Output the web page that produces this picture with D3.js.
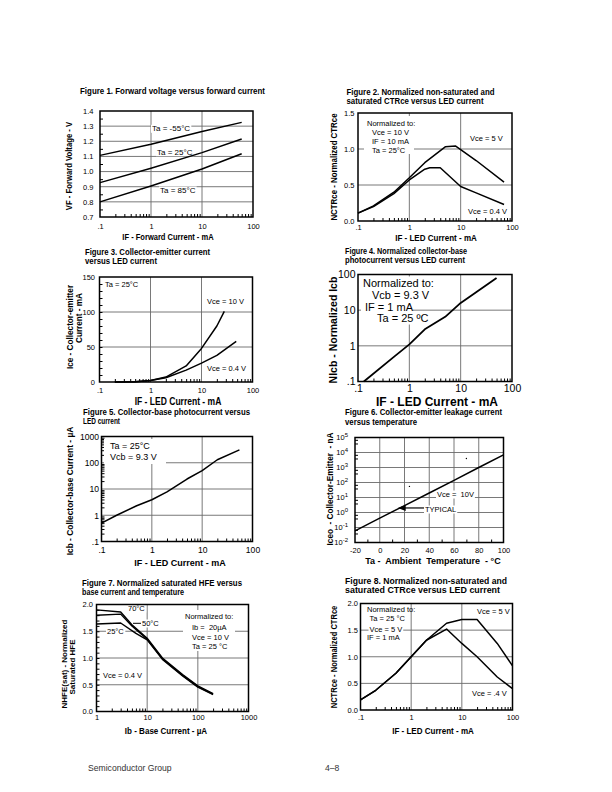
<!DOCTYPE html>
<html><head><meta charset="utf-8">
<script src="https://cdn.jsdelivr.net/npm/d3@7"></script>
<style>body{margin:0;background:#fff}svg{display:block}text{white-space:pre}</style>
</head><body><svg id="c" width="612" height="792"></svg>
<script>
// ---------- DATA ----------
const LOGX_TICKS = [0.1, 1, 10, 100];
const LOGX_LABELS = [".1", "1", "10", "100"];

// Fig 1
const FIG1_IF = [0.1, 1, 10, 60];
const FIG1_VF_M55 = [1.107, 1.18, 1.265, 1.325];
const FIG1_VF_25 = [0.927, 1.022, 1.125, 1.215];
const FIG1_VF_85 = [0.80, 0.905, 1.017, 1.118];
const FIG1_Y_TICKS = [0.7, 0.8, 0.9, 1.0, 1.1, 1.2, 1.3, 1.4];

// Fig 2
const FIG2_IF_5V = [0.1, 0.2, 0.5, 1, 2, 5, 8, 10, 20, 70];
const FIG2_CTR_5V = [0.11, 0.21, 0.40, 0.60, 0.81, 1.03, 1.04, 0.99, 0.84, 0.54];
const FIG2_IF_04V = [0.1, 0.2, 0.5, 1, 2, 2.5, 4, 10, 20, 70];
const FIG2_CTR_04V = [0.11, 0.20, 0.38, 0.57, 0.72, 0.74, 0.74, 0.48, 0.39, 0.23];
const FIG2_Y_TICKS = [0, 0.5, 1.0, 1.5];

// Fig 3
const FIG3_IF_10V = [0.2, 0.5, 1, 2, 5, 10, 20, 28];
const FIG3_ICE_10V = [0, 0.5, 2, 7, 23, 48, 80, 101];
const FIG3_IF_04V = [0.2, 0.5, 1, 2, 5, 10, 20, 48];
const FIG3_ICE_04V = [0, 0.5, 2, 6, 17, 27, 38, 58];
const FIG3_Y_TICKS = [0, 50, 100, 150];

// Fig 4
const FIG4_IF = [0.13, 0.5, 1, 2, 5, 10, 20, 50];
const FIG4_NICB = [0.1, 0.49, 1.1, 2.9, 6.5, 16, 32, 80];
const FIG4_Y_TICKS = [0.1, 1, 10, 100];
const FIG4_Y_LABELS = [".1", "1", "10", "100"];

// Fig 5
const FIG5_IF = [0.1, 0.2, 0.5, 1, 2, 5, 10, 20, 55];
const FIG5_ICB = [0.5, 1.0, 2.3, 3.9, 7.8, 24, 50, 130, 310];
const FIG5_Y_TICKS = [0.1, 1, 10, 100, 1000];
const FIG5_Y_LABELS = [".1", "1", "10", "100", "1000"];

// Fig 6
const FIG6_TA = [-20, 0, 20, 40, 60, 80, 100];
const FIG6_ICEO = [0.06, 0.42, 2.9, 20, 140, 1000, 7000];
const FIG6_DOTS_TA = [24, 70];
const FIG6_DOTS_I = [55, 4000];
const FIG6_X_TICKS = [-20, 0, 20, 40, 60, 80, 100];
const FIG6_Y_EXP = [-2, -1, 0, 1, 2, 3, 4, 5];

// Fig 7
const FIG7_IB_70 = [1, 3, 5, 10, 20, 50, 100, 200];
const FIG7_H_70 = [1.90, 1.86, 1.62, 1.37, 1.00, 0.69, 0.48, 0.335];
const FIG7_IB_50 = [1, 3, 5, 10, 20, 50, 100, 200];
const FIG7_H_50 = [1.80, 1.82, 1.60, 1.35, 0.985, 0.675, 0.465, 0.325];
const FIG7_IB_25 = [1, 3, 6, 10, 20, 50, 100, 200];
const FIG7_H_25 = [1.635, 1.655, 1.46, 1.34, 0.975, 0.665, 0.455, 0.315];
const FIG7_X_TICKS = [1, 10, 100, 1000];
const FIG7_X_LABELS = ["1", "10", "100", "1000"];
const FIG7_Y_TICKS = [0, 0.5, 1.0, 1.5, 2.0];

// Fig 8
const FIG8_IF = [0.1, 0.2, 0.5, 1, 2, 5, 10, 20, 50, 100];
const FIG8_CTR_5V = [0.19, 0.37, 0.69, 1.0, 1.31, 1.63, 1.70, 1.70, 1.25, 0.83];
const FIG8_CTR_04V = [0.19, 0.37, 0.69, 1.0, 1.31, 1.52, 1.25, 1.0, 0.62, 0.40];
const FIG8_Y_TICKS = [0, 0.5, 1.0, 1.5, 2.0];

// ---------- DRAWING ----------
const SANS = "'Liberation Sans', Arial, Helvetica, sans-serif";
const NW = 0.82; // condensed (Helvetica Narrow) width factor
const svg = d3.select('#c');
const zip = (a, b) => a.map((v, i) => [v, b[i]]);
const logMinor = (lo, hi) => { const r = []; for (let d = lo; d < hi; d *= 10) for (let k = 2; k <= 9; k++) r.push(d * k); return r; };

function addText(parent, x, y, str, o = {}) {
  const t = parent.append('text').attr('x', x).attr('y', y)
    .attr('font-family', SANS).attr('font-size', o.size || 7.5)
    .attr('font-weight', o.weight || 'normal').attr('text-anchor', o.anchor || 'start')
    .attr('fill', o.fill || '#000');
  if (o.rotate) t.attr('transform', `rotate(-90,${x},${y})`);
  t.text(str);
  if (o.width || o.narrow) {
    const L = o.width || t.node().getComputedTextLength() * o.narrow;
    t.attr('textLength', L).attr('lengthAdjust', 'spacingAndGlyphs');
  }
  if (o.bg) {
    const b = t.node().getBBox();
    parent.insert('rect', () => t.node()).attr('x', b.x - 1).attr('y', b.y + 0.5)
      .attr('width', b.width + 2).attr('height', b.height - 1).attr('fill', '#fff');
  }
  return t;
}

function panel(c) {
  const g = svg.append('g');
  const x = (c.xlog ? d3.scaleLog() : d3.scaleLinear()).domain(c.xdom).range([c.x0, c.x1]);
  const y = (c.ylog ? d3.scaleLog() : d3.scaleLinear()).domain(c.ydom).range([c.y1, c.y0]);
  const grid = g.append('g').attr('stroke', '#6a6a6a').attr('stroke-width', 0.9);
  c.xgrid.forEach(v => grid.append('line').attr('x1', x(v)).attr('x2', x(v)).attr('y1', c.y0).attr('y2', c.y1));
  c.ygrid.forEach(v => grid.append('line').attr('y1', y(v)).attr('y2', y(v)).attr('x1', c.x0).attr('x2', c.x1));
  if (c.xminor) {
    const ax = g.append('g').attr('transform', `translate(0,${c.y1})`)
      .call(d3.axisBottom(x).tickValues(c.xminor).tickSize(-3).tickFormat(''));
    ax.select('.domain').remove();
    ax.selectAll('line').attr('stroke', '#000').attr('stroke-width', 1);
  }
  if (c.yminor) {
    const ay = g.append('g').attr('transform', `translate(${c.x0},0)`)
      .call(d3.axisLeft(y).tickValues(c.yminor).tickSize(-3).tickFormat(''));
    ay.select('.domain').remove();
    ay.selectAll('line').attr('stroke', '#000').attr('stroke-width', 1);
  }
  const ax = g.append('g').attr('transform', `translate(0,${c.y1})`)
    .call(d3.axisBottom(x).tickValues(c.xticks).tickSize(0).tickPadding(c.xpad)
      .tickFormat((d, i) => c.xlabels ? c.xlabels[i] : d));
  ax.select('.domain').remove();
  ax.selectAll('text').attr('font-family', SANS).attr('font-size', c.tsize).attr('fill', '#000');
  const ay = g.append('g').attr('transform', `translate(${c.x0},0)`)
    .call(d3.axisLeft(y).tickValues(c.yticks).tickSize(0).tickPadding(c.ypad)
      .tickFormat((d, i) => c.ylabels ? c.ylabels[i] : d));
  ay.select('.domain').remove();
  ay.selectAll('text').attr('font-family', SANS).attr('font-size', c.tsize).attr('fill', '#000');
  return { g, x, y, c, ay };
}

function curves(p, series, w) {
  const line = d3.line().x(d => p.x(d[0])).y(d => p.y(d[1]));
  series.forEach(s => p.g.append('path').attr('d', line(s)).attr('fill', 'none')
    .attr('stroke', '#000').attr('stroke-width', w || 1.5).attr('stroke-linejoin', 'round'));
}
function box(p) {
  const c = p.c;
  p.g.append('rect').attr('x', c.x0).attr('y', c.y0).attr('width', c.x1 - c.x0).attr('height', c.y1 - c.y0)
    .attr('fill', 'none').attr('stroke', '#000').attr('stroke-width', 1.5);
}
function titles(lines, widths, x, y) {
  lines.forEach((s, i) => addText(svg, x, y + i * 9.2, s, { weight: 'bold', size: 8.2, width: widths[i] }));
}
function whiteRect(g, x, y, w, h) { g.append('rect').attr('x', x).attr('y', y).attr('width', w).attr('height', h).attr('fill', '#fff'); }

const fmt1 = d3.format('.1f');

// ---- Figure 1 ----
titles(["Figure 1. Forward voltage versus forward current"], [185], 80, 94);
{
  const p = panel({ x0: 100, x1: 253, y0: 111, y1: 217, xlog: true, xdom: [0.1, 100], ydom: [0.7, 1.4],
    xgrid: [1, 10], ygrid: [0.8, 0.9, 1.0, 1.1, 1.2, 1.3], xminor: logMinor(0.1, 100), yminor: [0.75, 0.85, 0.95, 1.05, 1.15, 1.25, 1.35],
    xticks: LOGX_TICKS, xlabels: LOGX_LABELS, yticks: FIG1_Y_TICKS, ylabels: FIG1_Y_TICKS.map(fmt1), xpad: 7, ypad: 6.5, tsize: 7.5 });
  addText(p.g, 152, 131.3, "Ta = -55°C", { size: 8, bg: true });
  addText(p.g, 157, 154.7, "Ta = 25°C", { size: 8, bg: true });
  addText(p.g, 160, 193, "Ta = 85°C", { size: 8, bg: true });
  curves(p, [zip(FIG1_IF, FIG1_VF_M55), zip(FIG1_IF, FIG1_VF_25), zip(FIG1_IF, FIG1_VF_85)]);
  box(p);
  addText(svg, 168, 239.5, "IF - Forward Current - mA", { weight: 'bold', size: 9.2, anchor: 'middle', narrow: NW });
  addText(svg, 72, 166, "VF - Forward Voltage - V", { weight: 'bold', size: 9.4, anchor: 'middle', rotate: true, narrow: NW });
}

// ---- Figure 2 ----
titles(["Figure 2. Normalized non-saturated and", "saturated CTRce versus LED current"], [148, 137], 346.5, 95);
{
  const p = panel({ x0: 358, x1: 512, y0: 113, y1: 221, xlog: true, xdom: [0.1, 100], ydom: [0, 1.5],
    xgrid: [1, 10], ygrid: [0.5, 1.0], xminor: logMinor(0.1, 100),
    xticks: LOGX_TICKS, xlabels: LOGX_LABELS, yticks: FIG2_Y_TICKS, ylabels: FIG2_Y_TICKS.map(fmt1), xpad: 3.5, ypad: 3.5, tsize: 7.5 });
  whiteRect(p.g, 364, 116, 50, 38);
  addText(p.g, 367, 125.5, "Normalized to:", { size: 7.5 });
  addText(p.g, 372, 134.5, "Vce = 10 V", { size: 7.5 });
  addText(p.g, 372, 143.8, "IF = 10 mA", { size: 7.5 });
  addText(p.g, 372, 152.8, "Ta = 25°C", { size: 7.5, bg: true });
  addText(p.g, 470, 141, "Vce = 5 V", { size: 7.5, bg: true });
  addText(p.g, 468, 213.8, "Vce = 0.4 V", { size: 7.5, bg: true });
  curves(p, [zip(FIG2_IF_5V, FIG2_CTR_5V), zip(FIG2_IF_04V, FIG2_CTR_04V)]);
  box(p);
  addText(svg, 436, 240.5, "IF - LED Current - mA", { weight: 'bold', size: 9.8, anchor: 'middle', narrow: NW });
  addText(svg, 336.5, 167, "NCTRce - Normalized CTRce", { weight: 'bold', size: 9.6, anchor: 'middle', rotate: true, narrow: NW });
}

// ---- Figure 3 ----
titles(["Figure 3. Collector-emitter current", "versus LED current"], [125, 72], 85, 254.7);
{
  const p = panel({ x0: 99.5, x1: 252.5, y0: 277, y1: 382, xlog: true, xdom: [0.1, 100], ydom: [0, 150],
    xgrid: [1, 10], ygrid: [50, 100], xminor: logMinor(0.1, 100), yminor: d3.range(10, 150, 10),
    xticks: LOGX_TICKS, xlabels: LOGX_LABELS, yticks: FIG3_Y_TICKS, xpad: 6, ypad: 4.5, tsize: 7.5 });
  addText(p.g, 105, 286.8, "Ta = 25°C", { size: 7.5 });
  addText(p.g, 207, 303.8, "Vce = 10 V", { size: 7.5, bg: true });
  addText(p.g, 207, 371, "Vce = 0.4 V", { size: 7.5, bg: true });
  curves(p, [zip(FIG3_IF_10V, FIG3_ICE_10V), zip(FIG3_IF_04V, FIG3_ICE_04V)]);
  box(p);
  addText(svg, 178, 404.5, "IF - LED Current - mA", { weight: 'bold', size: 10.4, anchor: 'middle', narrow: NW });
  addText(svg, 73, 327, "Ice - Collector-emitter", { weight: 'bold', size: 8.2, anchor: 'middle', rotate: true });
  addText(svg, 81.5, 318, "Current - mA", { weight: 'bold', size: 8.2, anchor: 'middle', rotate: true });
}

// ---- Figure 4 ----
titles(["Figure 4. Normalized collector-base", "photocurrent versus LED current"], [122, 120], 345, 254);
{
  const p = panel({ x0: 358, x1: 512, y0: 274.5, y1: 381.5, xlog: true, ylog: true, xdom: [0.1, 100], ydom: [0.1, 100],
    xgrid: [1, 10], ygrid: [1, 10], xminor: logMinor(0.1, 100),
    xticks: LOGX_TICKS, xlabels: LOGX_LABELS, yticks: FIG4_Y_TICKS, ylabels: FIG4_Y_LABELS, xpad: 3.5, ypad: 2.5, tsize: 10.5 });
  whiteRect(p.g, 361, 276.5, 52, 48);
  addText(p.g, 363, 286.5, "Normalized to:", { size: 11 });
  addText(p.g, 372, 298.5, "Vcb = 9.3 V", { size: 11 });
  addText(p.g, 365, 310.5, "IF = 1 mA", { size: 11 });
  addText(p.g, 377, 321.5, "Ta = 25 ºC", { size: 11 });
  curves(p, [zip(FIG4_IF, FIG4_NICB)], 1.8);
  box(p);
  addText(svg, 437, 405.5, "IF - LED Current - mA", { weight: 'bold', size: 12, anchor: 'middle' });
  addText(svg, 337, 330, "NIcb - Normalized Icb", { weight: 'bold', size: 10.5, anchor: 'middle', rotate: true });
}

// ---- Figure 5 ----
titles(["Figure 5. Collector-base photocurrent versus", "LED current"], [167, 37], 83, 414.7);
{
  const p = panel({ x0: 101.5, x1: 252.5, y0: 436.5, y1: 541.5, xlog: true, ylog: true, xdom: [0.1, 100], ydom: [0.1, 1000],
    xgrid: [1, 10], ygrid: [1, 10, 100], xminor: logMinor(0.1, 100), yminor: logMinor(0.1, 1000),
    xticks: LOGX_TICKS, xlabels: LOGX_LABELS, yticks: FIG5_Y_TICKS, ylabels: FIG5_Y_LABELS, xpad: 5.5, ypad: 2.5, tsize: 8.6 });
  whiteRect(p.g, 104, 439, 62, 25);
  addText(p.g, 110, 448.5, "Ta = 25°C", { size: 9 });
  addText(p.g, 110, 460, "Vcb = 9.3 V", { size: 9 });
  curves(p, [zip(FIG5_IF, FIG5_ICB)]);
  box(p);
  addText(svg, 180, 565.5, "IF - LED Current - mA", { weight: 'bold', size: 9, anchor: 'middle' });
  addText(svg, 73, 491, "Icb - Collector-base Current - µA", { weight: 'bold', size: 8.4, anchor: 'middle', rotate: true });
}

// ---- Figure 6 ----
titles(["Figure 6. Collector-emitter leakage current", "versus temperature"], [157, 72], 345, 415.3);
{
  const p = panel({ x0: 355, x1: 503.5, y0: 437.5, y1: 542.5, xlog: false, ylog: true, xdom: [-20, 100], ydom: [1e-2, 1e5],
    xgrid: [0, 20, 40, 60, 80], ygrid: [1e-1, 1, 1e1, 1e2, 1e3, 1e4], xminor: [-10, 10, 30, 50, 70, 90],
    yminor: logMinor(0.01, 1e5).filter((d, i) => i % 8 === 2 || i % 8 === 5),
    xticks: FIG6_X_TICKS, yticks: FIG6_Y_EXP.map(e => Math.pow(10, e)), ylabels: FIG6_Y_EXP.map(() => ''), xpad: 4.8, ypad: 7, tsize: 7.5 });
  p.ay.selectAll('.tick text').each(function (d, i) {
    const t = d3.select(this);
    t.text('10');
    t.append('tspan').attr('dy', -3.2).attr('font-size', 6).text(String(FIG6_Y_EXP[i]));
  });
  addText(p.g, 437, 497, "Vce =  10V", { size: 7.5, bg: true });
  addText(p.g, 425, 512, "TYPICAL", { size: 7.5, bg: true });
  const ay0 = p.y(2.2) + 0.6, ax0 = p.x(14.5);
  p.g.append('line').attr('x1', 424).attr('x2', ax0 + 5).attr('y1', ay0).attr('y2', ay0)
    .attr('stroke', '#000').attr('stroke-width', 1.2);
  p.g.append('path').attr('d', `M${ax0},${ay0} l8,-3 l0,6 z`).attr('fill', '#000');
  p.g.selectAll('.dot').data(zip(FIG6_DOTS_TA, FIG6_DOTS_I)).join('circle').attr('class', 'dot')
    .attr('cx', d => p.x(d[0])).attr('cy', d => p.y(d[1])).attr('r', 0.7).attr('fill', '#000');
  curves(p, [zip(FIG6_TA, FIG6_ICEO)]);
  box(p);
  addText(svg, 433, 563.5, "Ta -  Ambient  Temperature  - °C", { weight: 'bold', size: 9, anchor: 'middle' });
  addText(svg, 333, 489, "Iceo  - Collector-Emitter  - nA", { weight: 'bold', size: 8.2, anchor: 'middle', rotate: true });
}

// ---- Figure 7 ----
titles(["Figure 7. Normalized saturated HFE versus", "base current and temperature"], [160, 102], 82, 586);
{
  const p = panel({ x0: 96.5, x1: 248.5, y0: 604.5, y1: 711.5, xlog: true, xdom: [1, 1000], ydom: [0, 2],
    xgrid: [10, 100], ygrid: [0.5, 1.0, 1.5], xminor: logMinor(1, 1000), yminor: d3.range(0.1, 2, 0.1),
    xticks: FIG7_X_TICKS, xlabels: FIG7_X_LABELS, yticks: FIG7_Y_TICKS, ylabels: FIG7_Y_TICKS.map(fmt1), xpad: 3.6, ypad: 3.5, tsize: 7.5 });
  addText(p.g, 128, 611, "70°C", { size: 7.5, bg: true });
  p.g.append('line').attr('x1', 133).attr('x2', 141).attr('y1', 623.3).attr('y2', 623.3).attr('stroke', '#000').attr('stroke-width', 1);
  addText(p.g, 142, 626, "50°C", { size: 7.5, bg: true });
  addText(p.g, 107, 634.4, "25°C", { size: 7.5, bg: true });
  whiteRect(p.g, 183, 610, 52, 41);
  addText(p.g, 185, 618.5, "Normalized to:", { size: 7.5 });
  addText(p.g, 192, 629.5, "Ib =  20µA", { size: 7.5 });
  addText(p.g, 192, 640, "Vce = 10 V", { size: 7.5 });
  addText(p.g, 192, 648.5, "Ta = 25 °C", { size: 7.5 });
  addText(p.g, 103, 677.7, "Vce = 0.4 V", { size: 7.5 });
  curves(p, [zip(FIG7_IB_70, FIG7_H_70), zip(FIG7_IB_50, FIG7_H_50), zip(FIG7_IB_25, FIG7_H_25)], 1.4);
  box(p);
  addText(svg, 166, 734, "Ib - Base Current - µA", { weight: 'bold', size: 9.8, anchor: 'middle', narrow: NW });
  addText(svg, 66.5, 664, "NHFE(sat) - Normalized", { weight: 'bold', size: 8, anchor: 'middle', rotate: true });
  addText(svg, 75, 667, "Saturated HFE", { weight: 'bold', size: 8, anchor: 'middle', rotate: true });
}

// ---- Figure 8 ----
titles(["Figure 8. Normalized non-saturated and", "saturated CTRce versus LED current"], [162, 155], 345, 584);
{
  const p = panel({ x0: 360.5, x1: 512.5, y0: 603.5, y1: 710, xlog: true, xdom: [0.1, 100], ydom: [0, 2],
    xgrid: [1, 10], ygrid: [0.5, 1.0, 1.5], xminor: logMinor(0.1, 100),
    xticks: LOGX_TICKS, xlabels: LOGX_LABELS, yticks: FIG8_Y_TICKS, ylabels: FIG8_Y_TICKS.map(fmt1), xpad: 5, ypad: 2.5, tsize: 7.5 });
  addText(p.g, 367, 611.7, "Normalized to:", { size: 7.5 });
  addText(p.g, 369.5, 621, "Ta = 25 °C", { size: 7.5 });
  addText(p.g, 369.5, 631.7, "Vce = 5 V", { size: 7.5, bg: true });
  addText(p.g, 367, 640.4, "IF = 1 mA", { size: 7.5 });
  addText(p.g, 477, 614.4, "Vce = 5 V", { size: 7.5, bg: true });
  addText(p.g, 472, 696, "Vce = .4 V", { size: 7.5, bg: true });
  curves(p, [zip(FIG8_IF, FIG8_CTR_5V), zip(FIG8_IF, FIG8_CTR_04V)]);
  box(p);
  addText(svg, 433, 734, "IF - LED Current - mA", { weight: 'bold', size: 9.8, anchor: 'middle', narrow: NW });
  addText(svg, 336.5, 657, "NCTRce - Normalized CTRce", { weight: 'bold', size: 9.2, anchor: 'middle', rotate: true, narrow: NW });
}

// ---- Footer ----
addText(svg, 88, 770.5, "Semiconductor Group", { size: 8.6, fill: '#333' });
addText(svg, 325, 770.5, "4–8", { size: 8.6, fill: '#333' });
</script></body></html>
